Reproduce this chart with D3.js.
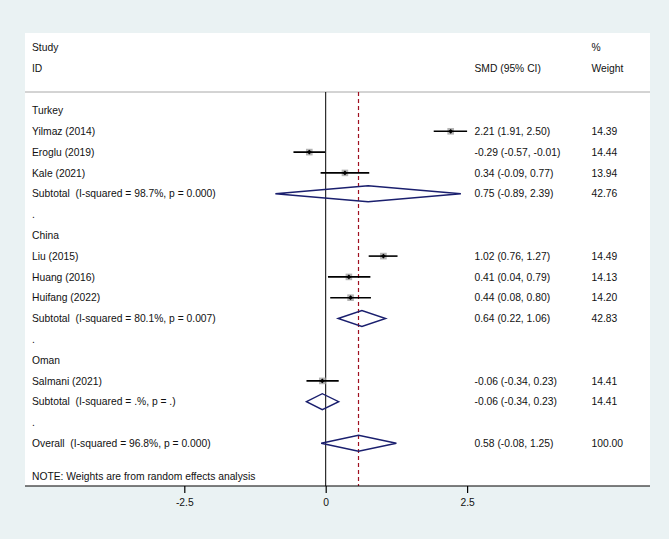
<!DOCTYPE html>
<html>
<head>
<meta charset="utf-8">
<script src="https://cdn.jsdelivr.net/npm/d3@7"></script>
<style>
  html, body { margin: 0; padding: 0; background: #eaf2f3; }
  svg { display: block; }
  text { font-family: "Liberation Sans", Arial, Helvetica, sans-serif; font-size: 10.3px; fill: #111; white-space: pre; }
</style>
</head>
<body>
<svg id="chart" width="669" height="539"></svg>
<script>
// ---------------- DATA ----------------
const groupNames = ["Turkey", "China", "Oman"];

const studyNames   = ["Yilmaz (2014)", "Eroglu (2019)", "Kale (2021)", "Liu (2015)", "Huang (2016)", "Huifang (2022)", "Salmani (2021)"];
const studyGroup   = [0, 0, 0, 1, 1, 1, 2];
const studyES      = [2.21, -0.29, 0.34, 1.02, 0.41, 0.44, -0.06];
const studyLo      = [1.91, -0.57, -0.09, 0.76, 0.04, 0.08, -0.34];
const studyHi      = [2.50, -0.01, 0.77, 1.27, 0.79, 0.80, 0.23];
const studyWeight  = [14.39, 14.44, 13.94, 14.49, 14.13, 14.20, 14.41];

const subtotalLabels = ["Subtotal  (I-squared = 98.7%, p = 0.000)",
                        "Subtotal  (I-squared = 80.1%, p = 0.007)",
                        "Subtotal  (I-squared = .%, p = .)"];
const subtotalES     = [0.75, 0.64, -0.06];
const subtotalLo     = [-0.89, 0.22, -0.34];
const subtotalHi     = [2.39, 1.06, 0.23];
const subtotalWeight = [42.76, 42.83, 14.41];

const overallLabel  = "Overall  (I-squared = 96.8%, p = 0.000)";
const overallES     = 0.58;
const overallLo     = -0.08;
const overallHi     = 1.25;
const overallWeight = 100.00;

const noteText   = "NOTE: Weights are from random effects analysis";
const xTickValues = [-2.5, 0, 2.5];
const xTickLabels = ["-2.5", "0", "2.5"];

// ---------------- BUILD ROWS ----------------
const rows = [];
groupNames.forEach((g, gi) => {
  rows.push({ type: "header", label: g });
  studyNames.forEach((s, i) => {
    if (studyGroup[i] === gi) rows.push({ type: "study", label: s, es: studyES[i], lo: studyLo[i], hi: studyHi[i], w: studyWeight[i] });
  });
  rows.push({ type: "sub", label: subtotalLabels[gi], es: subtotalES[gi], lo: subtotalLo[gi], hi: subtotalHi[gi], w: subtotalWeight[gi] });
  rows.push({ type: "blank", label: "." });
});
rows.push({ type: "sub", label: overallLabel, es: overallES, lo: overallLo, hi: overallHi, w: overallWeight });

// ---------------- LAYOUT ----------------
const svg = d3.select("#chart");
const panel = { left: 25, right: 650, top: 33, bottom: 486 };
const sepY = 92;

const x = d3.scaleLinear().domain([-2.5, 2.5]).range([184.3, 467.1]);
const y = d3.scaleLinear().domain([0, rows.length - 1]).range([110.5, 443.3]);
const f2 = d3.format(".2f");
const fmt = v => f2(v).replace("−", "-");

svg.append("rect").attr("x", 0).attr("y", 0).attr("width", 669).attr("height", 539).attr("fill", "#eaf2f3");
svg.append("rect").attr("x", panel.left).attr("y", panel.top)
  .attr("width", panel.right - panel.left).attr("height", panel.bottom - panel.top).attr("fill", "#ffffff");

// header
const labelX = 32, esX = 474.5, wX = 591.5;
svg.append("text").attr("x", labelX).attr("y", 47).attr("dy", "0.35em").text("Study");
svg.append("text").attr("x", labelX).attr("y", 68).attr("dy", "0.35em").text("ID");
svg.append("text").attr("x", esX).attr("y", 68).attr("dy", "0.35em").text("SMD (95% CI)");
svg.append("text").attr("x", wX).attr("y", 47).attr("dy", "0.35em").text("%");
svg.append("text").attr("x", wX).attr("y", 68).attr("dy", "0.35em").text("Weight");

// separator
svg.append("line").attr("x1", panel.left).attr("x2", panel.right).attr("y1", sepY).attr("y2", sepY)
  .attr("stroke", "#a8a8a8").attr("stroke-width", 1);

// reference lines
svg.append("line").attr("x1", x(0)).attr("x2", x(0)).attr("y1", sepY).attr("y2", panel.bottom)
  .attr("stroke", "#000").attr("stroke-width", 1);
svg.append("line").attr("x1", x(overallES)).attr("x2", x(overallES)).attr("y1", sepY).attr("y2", panel.bottom)
  .attr("stroke", "#a01020").attr("stroke-width", 1.2).attr("stroke-dasharray", "4,3");

// row labels and values
const g = svg.append("g");
rows.forEach((r, i) => {
  const yy = y(i);
  g.append("text").attr("x", labelX).attr("y", yy).attr("dy", "0.35em").text(r.label);
  if (r.type === "study" || r.type === "sub") {
    g.append("text").attr("x", esX).attr("y", yy).attr("dy", "0.35em")
      .text(`${fmt(r.es)} (${fmt(r.lo)}, ${fmt(r.hi)})`);
    g.append("text").attr("x", wX).attr("y", yy).attr("dy", "0.35em").text(fmt(r.w));
  }
  if (r.type === "study") {
    const s = Math.sqrt(r.w) * 1.75;
    g.append("rect").attr("x", x(r.es) - s / 2).attr("y", yy - s / 2).attr("width", s).attr("height", s)
      .attr("fill", "#b4b4b4");
    g.append("line").attr("x1", x(r.lo)).attr("x2", x(r.hi)).attr("y1", yy).attr("y2", yy)
      .attr("stroke", "#000").attr("stroke-width", 1.6);
    const d = 2.4;
    g.append("path").attr("d", `M${x(r.es) - d},${yy}L${x(r.es)},${yy - d}L${x(r.es) + d},${yy}L${x(r.es)},${yy + d}Z`)
      .attr("fill", "#000");
  }
  if (r.type === "sub") {
    const h = 8;
    g.append("path")
      .attr("d", `M${x(r.lo)},${yy}L${x(r.es)},${yy - h}L${x(r.hi)},${yy}L${x(r.es)},${yy + h}Z`)
      .attr("fill", "none").attr("stroke", "#1a1f6e").attr("stroke-width", 1.4);
  }
});

// note
svg.append("text").attr("x", labelX).attr("y", 476.5).attr("dy", "0.35em").text(noteText);

// axis
const axis = d3.axisBottom(x).tickValues(xTickValues).tickSize(7).tickPadding(6)
  .tickFormat((d, i) => xTickLabels[i]);
const ax = svg.append("g").attr("transform", `translate(0,${panel.bottom})`).call(axis);
ax.select(".domain").remove();
ax.selectAll(".tick line").attr("stroke", "#000").attr("stroke-width", 1.2);
ax.selectAll(".tick text").attr("fill", "#111").style("font-size", "10.3px")
  .style("font-family", '"Liberation Sans", Arial, Helvetica, sans-serif');
svg.append("line").attr("x1", panel.left).attr("x2", panel.right).attr("y1", panel.bottom).attr("y2", panel.bottom)
  .attr("stroke", "#000").attr("stroke-width", 1.2);
</script>
</body>
</html>
